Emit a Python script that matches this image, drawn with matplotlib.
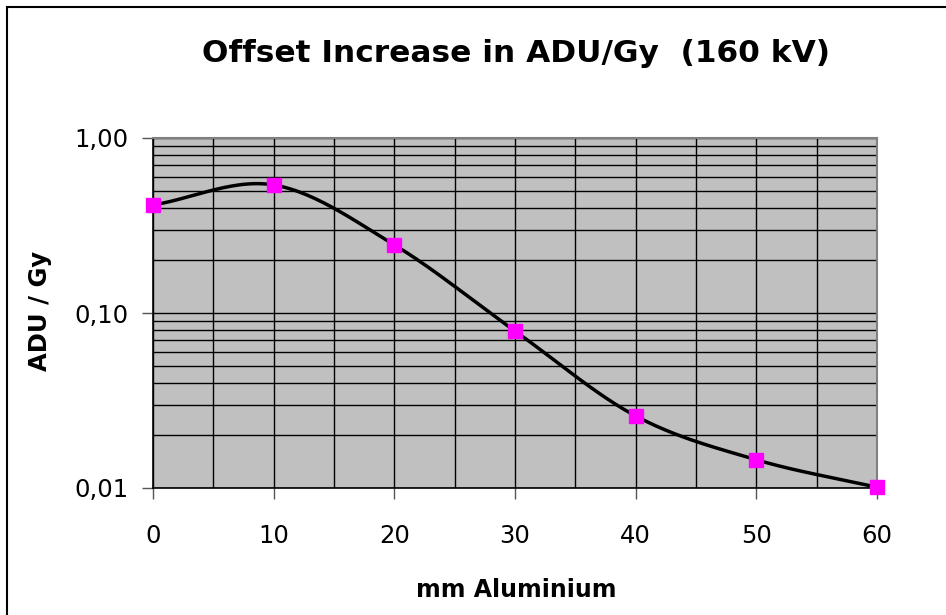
import matplotlib.pyplot as plt
import numpy as np
from matplotlib.patches import Rectangle
from matplotlib.ticker import FixedLocator, LogLocator, NullFormatter

# values
thickness = [0, 10, 20, 30, 40, 50, 60]
adu_per_gy = [0.414, 0.539, 0.245, 0.0789, 0.0258, 0.0145, 0.0101]
y_ticks = [0.01, 0.1, 1.0]
y_labels = ["0,01", "0,10", "1,00"]
x_ticks = [0, 10, 20, 30, 40, 50, 60]


def smooth_line(xs, ys, n=30):
    # catmull-rom through the points, done in log space like the drawn curve
    x = np.array(xs, dtype=float)
    y = np.log10(ys)
    px = np.concatenate([[2 * x[0] - x[1]], x, [2 * x[-1] - x[-2]]])
    py = np.concatenate([[2 * y[0] - y[1]], y, [2 * y[-1] - y[-2]]])
    outx, outy = [], []
    t = np.linspace(0, 1, n)
    for i in range(1, len(px) - 2):
        for arr, out in ((px, outx), (py, outy)):
            p0, p1, p2, p3 = arr[i - 1], arr[i], arr[i + 1], arr[i + 2]
            seg = 0.5 * ((2 * p1) + (-p0 + p2) * t
                         + (2 * p0 - 5 * p1 + 4 * p2 - p3) * t ** 2
                         + (-p0 + 3 * p1 - 3 * p2 + p3) * t ** 3)
            out.extend(seg)
    return np.array(outx), 10 ** np.array(outy)


fig = plt.figure(figsize=(9.46, 6.15), dpi=100)
fig.patch.set_facecolor("white")
fig.patches.append(Rectangle((7 / 946, -0.1), 1.0, 1.1 - 7 / 615, transform=fig.transFigure,
                             fill=False, edgecolor="black", linewidth=1.5))

ax = fig.add_axes([153 / 946, 1 - 488 / 615, (877 - 153) / 946, (488 - 138) / 615])
ax.set_facecolor("#c0c0c0")
ax.set_yscale("log")
ax.set_xlim(0, 60)
ax.set_ylim(0.01, 1.0)

ax.xaxis.set_major_locator(FixedLocator(x_ticks))
ax.xaxis.set_minor_locator(FixedLocator(np.arange(0, 61, 5)))
ax.yaxis.set_major_locator(FixedLocator(y_ticks))
ax.yaxis.set_minor_locator(LogLocator(base=10, subs=np.arange(2, 10)))
ax.yaxis.set_minor_formatter(NullFormatter())
ax.set_yticklabels(y_labels)

ax.grid(True, which="both", color="black", linewidth=1.0)
ax.set_axisbelow(True)
ax.tick_params(which="minor", length=0)
ax.tick_params(which="major", direction="out", length=8, width=1, color="#555555",
               labelsize=17.5)
ax.tick_params(axis="y", pad=10)
ax.tick_params(axis="x", pad=18)

for side in ["top", "right"]:
    ax.spines[side].set_color("#808080")
    ax.spines[side].set_linewidth(1.5)
for side in ["left", "bottom"]:
    ax.spines[side].set_color("black")
    ax.spines[side].set_linewidth(1.2)

sx, sy = smooth_line(thickness, adu_per_gy)
ax.plot(sx, sy, color="black", linewidth=2.5, zorder=3, clip_on=False)
ax.plot(thickness, adu_per_gy, linestyle="none", marker="s", markersize=10,
        color="#ff00ff", zorder=4, clip_on=False)

fig.text(516 / 946, 1 - 53 / 615, "Offset Increase in ADU/Gy  (160 kV)",
         ha="center", va="center", fontsize=22.5, fontweight="bold")
fig.text(516 / 946, 1 - 590 / 615, "mm Aluminium", ha="center", va="center",
         fontsize=17, fontweight="bold")
fig.text(40 / 946, 1 - 311 / 615, "ADU / Gy", ha="center", va="center",
         rotation=90, fontsize=17.5, fontweight="bold")

fig.savefig("out.png", dpi=100)
